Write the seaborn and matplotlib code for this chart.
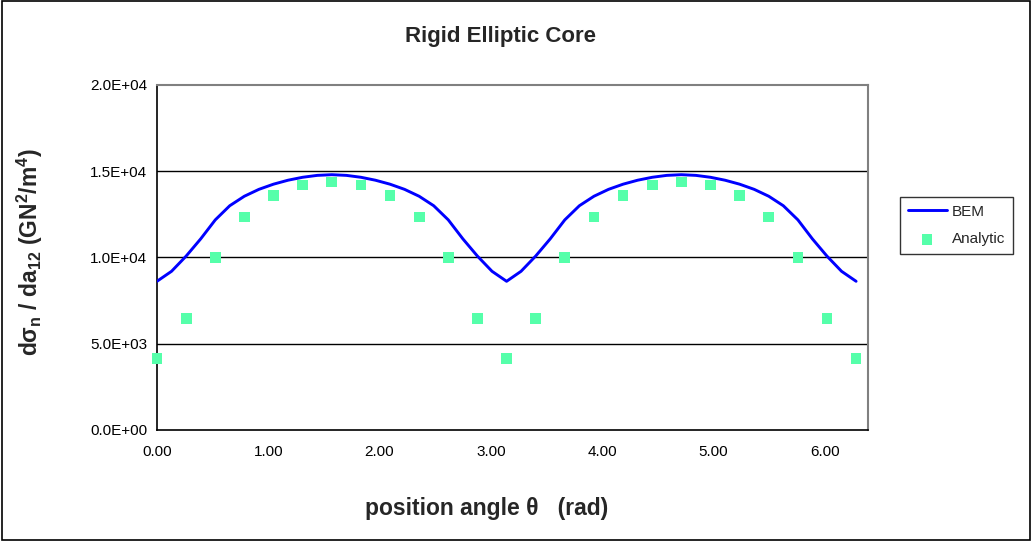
import numpy as np
import pandas as pd
import matplotlib
matplotlib.use("Agg")
import matplotlib.pyplot as plt
from matplotlib.patches import Rectangle
import seaborn as sns

# BEM 曲線 (步長 pi/24)
bem_theta = [0.000, 0.131, 0.262, 0.393, 0.524, 0.654, 0.785, 0.916, 1.047, 1.178, 1.309, 1.440, 1.571,
             1.702, 1.833, 1.963, 2.094, 2.225, 2.356, 2.487, 2.618, 2.749, 2.880, 3.011, 3.142,
             3.272, 3.403, 3.534, 3.665, 3.796, 3.927, 4.058, 4.189, 4.320, 4.451, 4.581, 4.712,
             4.843, 4.974, 5.105, 5.236, 5.367, 5.498, 5.629, 5.760, 5.890, 6.021, 6.152, 6.283]
bem_value = [8620, 9200, 10080, 11080, 12180, 13000, 13550, 13950, 14250, 14480, 14650, 14760, 14800,
             14760, 14650, 14480, 14250, 13950, 13550, 13000, 12180, 11080, 10080, 9200, 8620,
             9200, 10080, 11080, 12180, 13000, 13550, 13950, 14250, 14480, 14650, 14760, 14800,
             14760, 14650, 14480, 14250, 13950, 13550, 13000, 12180, 11080, 10080, 9200, 8620]

# 解析解 (步長 pi/12)
ana_theta = [0.000, 0.262, 0.524, 0.785, 1.047, 1.309, 1.571, 1.833, 2.094, 2.356, 2.618, 2.880, 3.142,
             3.403, 3.665, 3.927, 4.189, 4.451, 4.712, 4.974, 5.236, 5.498, 5.760, 6.021, 6.283]
ana_value = [4150, 6450, 10000, 12350, 13600, 14200, 14380, 14200, 13600, 12350, 10000, 6450, 4150,
             6450, 10000, 12350, 13600, 14200, 14380, 14200, 13600, 12350, 10000, 6450, 4150]

y_ticks = [0, 5000, 10000, 15000, 20000]
x_ticks = [0, 1, 2, 3, 4, 5, 6]

df_bem = pd.DataFrame({"theta": bem_theta, "value": bem_value})
df_ana = pd.DataFrame({"theta": ana_theta, "value": ana_value})

sns.set_style("white")
plt.rcParams['font.family'] = ['Liberation Sans', 'DejaVu Sans']
plt.rcParams['mathtext.default'] = 'regular'

fig = plt.figure(figsize=(10.32, 5.41), dpi=100)
ax = fig.add_axes([0.1521, 0.2052, 0.689, 0.6377])

# 背景格線
for yv in y_ticks[1:-1]:
    ax.axhline(yv, color="black", linewidth=1.0, zorder=0)

sns.lineplot(data=df_bem, x="theta", y="value", ax=ax, color="#0000FF",
             linewidth=2.1, label="BEM", zorder=3)
sns.scatterplot(data=df_ana, x="theta", y="value", ax=ax, marker="s", s=60,
                color="#55FFAA", edgecolor="none", label="Analytic", zorder=4)
for coll in ax.collections:
    coll.set_clip_on(False)

ax.set_xlim(0, 6.39)
ax.set_ylim(0, 20000)
ax.set_xticks(x_ticks)
ax.set_xticklabels([f"{v:.2f}" for v in x_ticks])
ax.set_yticks(y_ticks)
ax.set_yticklabels([f"{v:.1E}" for v in y_ticks])
ax.tick_params(axis="x", direction="inout", length=7, width=1, labelsize=11, pad=7, colors="black")
ax.tick_params(axis="y", direction="out", length=4, width=1, labelsize=11, pad=3, colors="black")

for side in ["top", "right"]:
    ax.spines[side].set_color("#808080")
    ax.spines[side].set_linewidth(1.5)
for side in ["left", "bottom"]:
    ax.spines[side].set_color("black")
    ax.spines[side].set_linewidth(1.2)

ax.set_xlabel("position angle θ   (rad)", fontsize=16.5, fontweight="bold")
ax.xaxis.set_label_coords(0.463, -0.193)
ax.set_ylabel("dσ$_n$ / da$_{12}$ (GN$^2$/m$^4$)", fontsize=16.5, fontweight="bold")
ax.yaxis.set_label_coords(-0.158, 0.516)
fig.text(0.4845, 0.932, "Rigid Elliptic Core", fontsize=16, fontweight="bold",
         ha="center", va="center")

leg = ax.legend(loc="center", bbox_to_anchor=(0.9268, 0.5832), bbox_transform=fig.transFigure,
                frameon=True, fancybox=False, fontsize=11, handlelength=2.55, borderpad=0.5,
                labelspacing=0.9, handletextpad=0.35, borderaxespad=0)
leg.get_frame().set_edgecolor("black")
leg.get_frame().set_linewidth(1.0)

fig.patches.append(Rectangle((0.002, 0.002), 0.996, 0.996, transform=fig.transFigure,
                             fill=False, edgecolor="black", linewidth=1.2))

fig.savefig("out.png", dpi=100)
